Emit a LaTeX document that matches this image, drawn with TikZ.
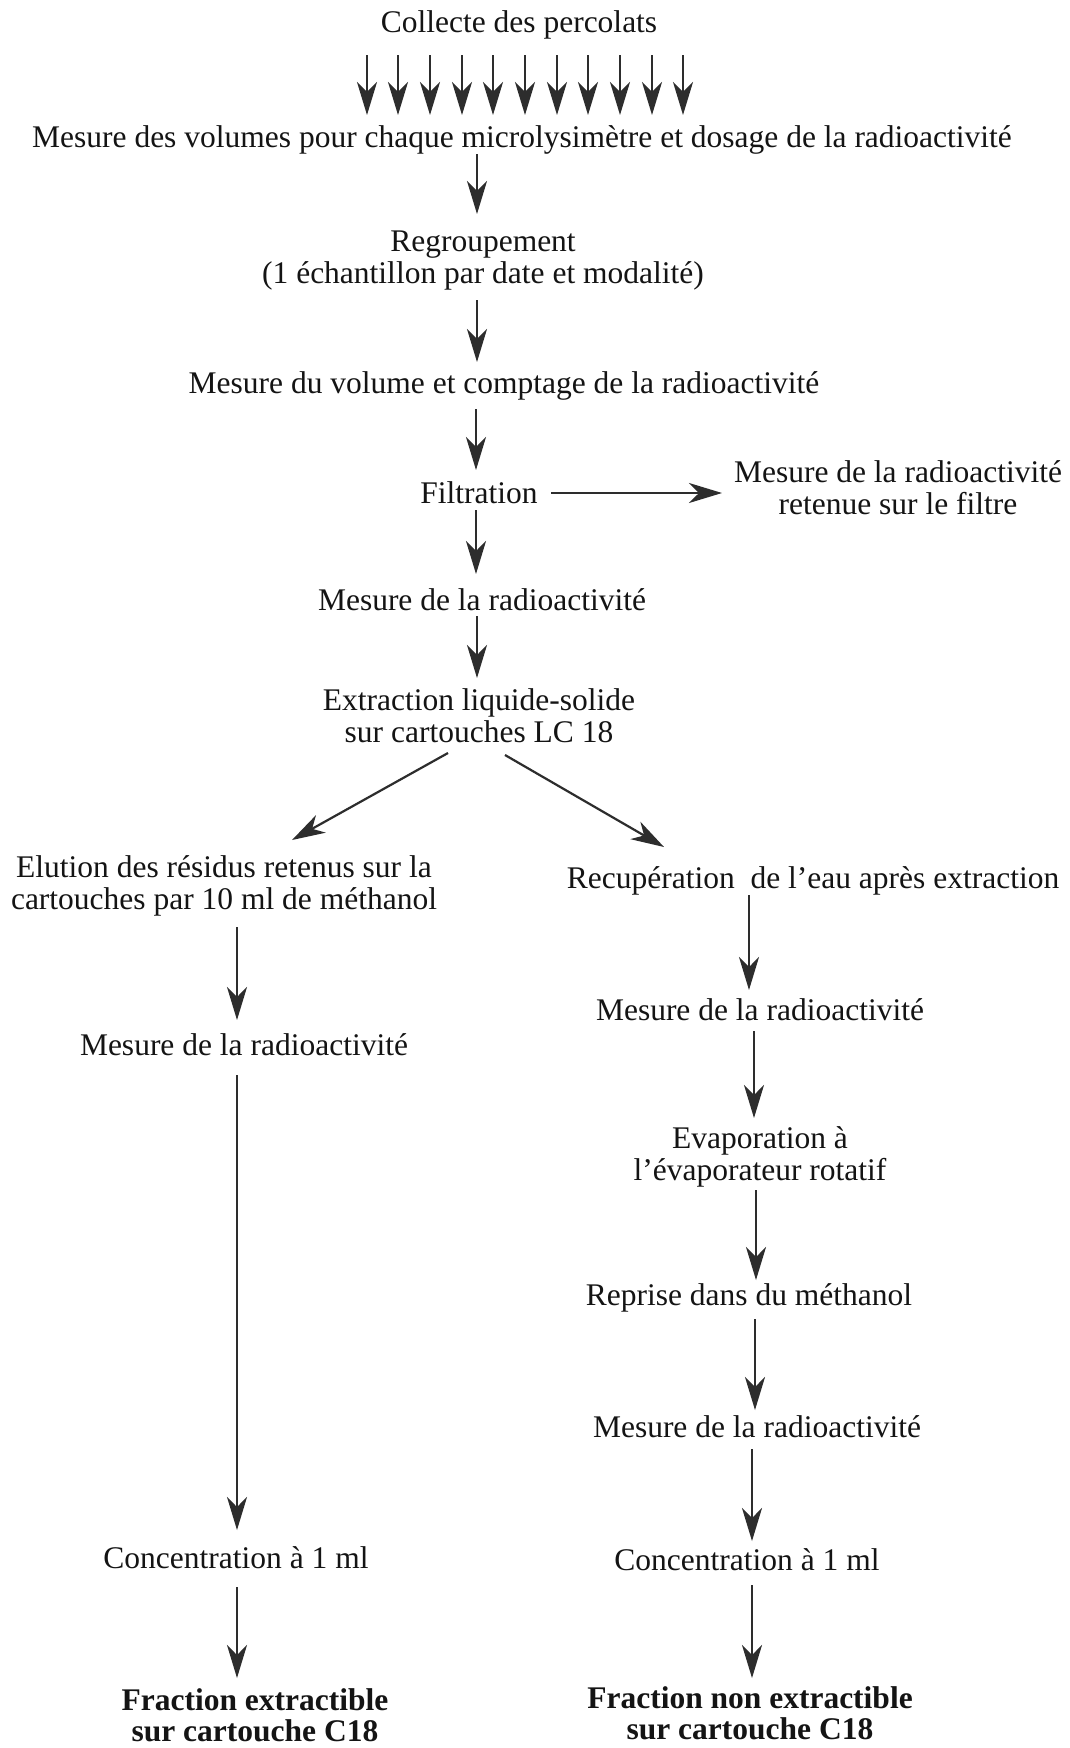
\documentclass[tikz,border=0pt]{standalone}
\usepackage{fontspec}
\setmainfont{Liberation Serif}
\usetikzlibrary{arrows.meta}
\definecolor{arrcol}{RGB}{45,45,45}
\definecolor{txtcol}{RGB}{20,20,20}
\tikzset{
  txt/.style={font=\fontsize{31.5}{32}\selectfont, text=txtcol, inner sep=0pt, align=center},
  btxt/.style={txt, font=\fontsize{31.5}{31}\selectfont\bfseries},
  arr/.style={draw=arrcol, line width=2.2pt, -{Stealth[length=33pt, width=20pt, inset=10pt, fill=arrcol]}},
}
\begin{document}
\begin{tikzpicture}[x=1pt, y=-1pt]
\fill[white] (0,0) rectangle (1069,1748);
\useasboundingbox (0,0) rectangle (1069,1748);

% texts
\node[txt] (collecte) at (519,25) {Collecte des percolats};
\node[txt] (volumes) at (522,140) {Mesure des volumes pour chaque microlysimètre et dosage de la radioactivité};
\node[txt] (regroup) at (483,261) {Regroupement\\(1 échantillon par date et modalité)};
\node[txt] (comptage) at (504,386) {Mesure du volume et comptage de la radioactivité};
\node[txt] (filtration) at (479,493) {Filtration};
\node[txt] (filtre) at (898,488) {Mesure de la radioactivité\\retenue sur le filtre};
\node[txt] (mesure1) at (482,600) {Mesure de la radioactivité};
\node[txt] (extraction) at (479,716) {Extraction liquide-solide\\sur cartouches LC 18};
\node[txt] (elution) at (224,886) {Elution des résidus retenus sur la\\cartouches par 10 ml de méthanol};
\node[txt] (recup) at (813,881) {Recupération\ \ de l’eau après extraction};
\node[txt] (mesureL) at (244,1045) {Mesure de la radioactivité};
\node[txt] (mesureR1) at (760,1010) {Mesure de la radioactivité};
\node[txt] (evap) at (760,1157) {Evaporation à\\l’évaporateur rotatif};
\node[txt] (reprise) at (749,1298) {Reprise dans du méthanol};
\node[txt] (mesureR2) at (757,1427) {Mesure de la radioactivité};
\node[txt] (concL) at (236,1558) {Concentration à 1 ml};
\node[txt] (concR) at (747,1560) {Concentration à 1 ml};
\node[btxt] (fracL) at (255,1715) {Fraction extractible\\sur cartouche C18};
\node[btxt] (fracR) at (750,1713) {Fraction non extractible\\sur cartouche C18};

% top fan of arrows
\foreach \i/\x in {1/367,2/398,3/430,4/462,5/493,6/525,7/557,8/588,9/620,10/652,11/683} {
  \coordinate (ts\i) at (\x,55);
  \coordinate (te\i) at (\x,115);
  \draw[arr] (ts\i) -- (te\i);
}

% main vertical chain
\coordinate (a1s) at (477,154); \coordinate (a1e) at (477,214);
\coordinate (a2s) at (477,300); \coordinate (a2e) at (477,362);
\coordinate (a3s) at (476,409); \coordinate (a3e) at (476,470);
\coordinate (a4s) at (476,510); \coordinate (a4e) at (476,574);
\coordinate (a5s) at (477,616); \coordinate (a5e) at (477,678);
\coordinate (hs) at (551,493); \coordinate (he) at (722,493);
\draw[arr] (a1s) -- (a1e);
\draw[arr] (a2s) -- (a2e);
\draw[arr] (a3s) -- (a3e);
\draw[arr] (a4s) -- (a4e);
\draw[arr] (a5s) -- (a5e);
\draw[arr] (hs) -- (he);

% diagonal split
\coordinate (dls) at (448,753); \coordinate (dle) at (292,840);
\coordinate (drs) at (505,755); \coordinate (dre) at (664,847);
\draw[arr] (dls) -- (dle);
\draw[arr] (drs) -- (dre);

% left column
\coordinate (l1s) at (237,927); \coordinate (l1e) at (237,1020);
\coordinate (l2s) at (237,1075); \coordinate (l2e) at (237,1530);
\coordinate (l3s) at (237,1587); \coordinate (l3e) at (237,1678);
\draw[arr] (l1s) -- (l1e);
\draw[arr] (l2s) -- (l2e);
\draw[arr] (l3s) -- (l3e);

% right column
\coordinate (r1s) at (749,895); \coordinate (r1e) at (749,990);
\coordinate (r2s) at (754,1031); \coordinate (r2e) at (754,1118);
\coordinate (r3s) at (756,1190); \coordinate (r3e) at (756,1280);
\coordinate (r4s) at (755,1319); \coordinate (r4e) at (755,1410);
\coordinate (r5s) at (752,1449); \coordinate (r5e) at (752,1541);
\coordinate (r6s) at (752,1585); \coordinate (r6e) at (752,1678);
\draw[arr] (r1s) -- (r1e);
\draw[arr] (r2s) -- (r2e);
\draw[arr] (r3s) -- (r3e);
\draw[arr] (r4s) -- (r4e);
\draw[arr] (r5s) -- (r5e);
\draw[arr] (r6s) -- (r6e);
\end{tikzpicture}
\end{document}
